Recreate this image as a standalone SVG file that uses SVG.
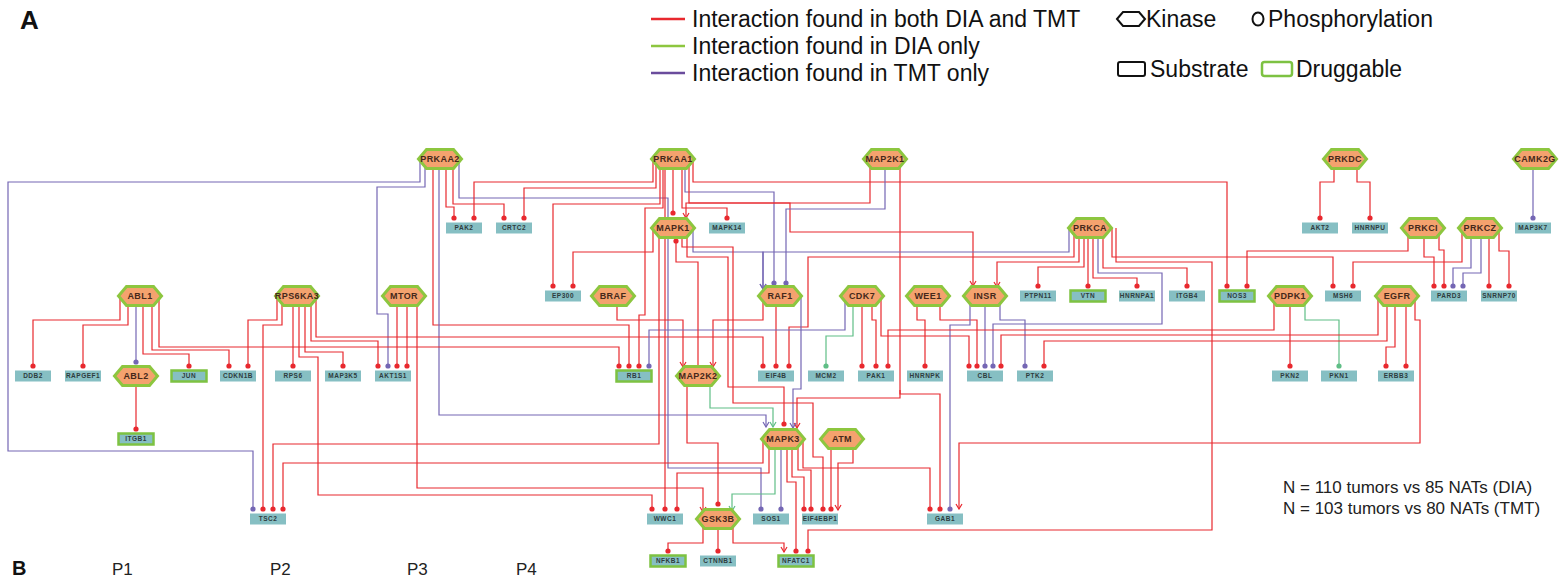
<svg xmlns="http://www.w3.org/2000/svg" xmlns:xlink="http://www.w3.org/1999/xlink" width="1565" height="576" viewBox="0 0 1565 576">
<style>
.bg{fill:#fff}
.e{fill:none;stroke-width:1.2}
.r{stroke:#E8282E}
.g{stroke:#5FBE86}
.p{stroke:#7466B4}
.r.d{marker-end:url(#dr)}
.g.d{marker-end:url(#dg)}
.p.d{marker-end:url(#dp)}
.r.t{marker-end:url(#tr)}
.g.t{marker-end:url(#tg)}
.p.t{marker-end:url(#tp)}
.k{fill:#F4A26E;stroke:#8DC63F;stroke-width:3;stroke-linejoin:miter}
.s{fill:#86BFC3}
.dr{fill:#86BFC3;stroke:#7DC242;stroke-width:2.5}
.kt{font-family:"Liberation Sans",Arial,sans-serif;font-size:9px;font-weight:bold;fill:#46281A;text-anchor:middle;letter-spacing:0.4px}
.st{font-family:"Liberation Sans",Arial,sans-serif;font-size:6.5px;font-weight:bold;fill:#2E3C3E;text-anchor:middle;letter-spacing:0.5px}
.lg{font-family:"Liberation Sans",Arial,sans-serif;font-size:23px;fill:#111}
.nt{font-family:"Liberation Sans",Arial,sans-serif;font-size:17px;fill:#222}
.big{font-family:"Liberation Sans",Arial,sans-serif;font-size:26px;font-weight:bold;fill:#111}
</style>
<defs>
<marker id="dr" viewBox="0 0 6 6" refX="3" refY="3" markerWidth="6" markerHeight="6" markerUnits="userSpaceOnUse"><circle cx="3" cy="3" r="2.6" fill="#E8282E"/></marker>
<marker id="dg" viewBox="0 0 6 6" refX="3" refY="3" markerWidth="6" markerHeight="6" markerUnits="userSpaceOnUse"><circle cx="3" cy="3" r="2.6" fill="#5FBE86"/></marker>
<marker id="dp" viewBox="0 0 6 6" refX="3" refY="3" markerWidth="6" markerHeight="6" markerUnits="userSpaceOnUse"><circle cx="3" cy="3" r="2.6" fill="#7466B4"/></marker>
<marker id="tr" viewBox="-6 -4 7 8" refX="0" refY="0" markerWidth="7" markerHeight="8" markerUnits="userSpaceOnUse" orient="auto"><path d="M-5,-3 L0,0 L-5,3" fill="none" stroke="#E8282E" stroke-width="1.2"/></marker>
<marker id="tg" viewBox="-6 -4 7 8" refX="0" refY="0" markerWidth="7" markerHeight="8" markerUnits="userSpaceOnUse" orient="auto"><path d="M-5,-3 L0,0 L-5,3" fill="none" stroke="#5FBE86" stroke-width="1.2"/></marker>
<marker id="tp" viewBox="-6 -4 7 8" refX="0" refY="0" markerWidth="7" markerHeight="8" markerUnits="userSpaceOnUse" orient="auto"><path d="M-5,-3 L0,0 L-5,3" fill="none" stroke="#7466B4" stroke-width="1.2"/></marker>
<polygon id="hex" class="k" points="-21.5,0 -13.5,-9.5 13.5,-9.5 21.5,0 13.5,9.5 -13.5,9.5"/>
<rect id="sub" class="s" x="-18" y="-5.5" width="36" height="11"/>
<rect id="drg" class="dr" x="-17.5" y="-5.5" width="35" height="11"/>
</defs>
<rect class="bg" width="1565" height="576"/>

<g id="legend">
<text class="big" x="20" y="29">A</text>
<line x1="651" y1="19" x2="685" y2="19" stroke="#E8282E" stroke-width="2.5"/>
<line x1="651" y1="46" x2="685" y2="46" stroke="#8DC63F" stroke-width="2.5"/>
<line x1="651" y1="73" x2="685" y2="73" stroke="#6A4C9C" stroke-width="2.5"/>
<text class="lg" x="692" y="27">Interaction found in both DIA and TMT</text>
<text class="lg" x="692" y="54">Interaction found in DIA only</text>
<text class="lg" x="692" y="81">Interaction found in TMT only</text>
<polygon points="1117,19 1123,12 1139,12 1145,19 1139,26 1123,26" fill="none" stroke="#111" stroke-width="2"/>
<text class="lg" x="1146" y="27">Kinase</text>
<ellipse cx="1258" cy="19" rx="5.5" ry="6.5" fill="none" stroke="#111" stroke-width="2"/>
<text class="lg" x="1268" y="27">Phosphorylation</text>
<rect x="1118" y="62" width="27" height="14" rx="2" fill="none" stroke="#111" stroke-width="2"/>
<text class="lg" x="1150" y="77">Substrate</text>
<rect x="1262" y="62" width="30" height="14" rx="2.5" fill="none" stroke="#7DC242" stroke-width="2.5"/>
<text class="lg" x="1296" y="77">Druggable</text>
<text class="nt" x="1283" y="493">N = 110 tumors vs 85 NATs (DIA)</text>
<text class="nt" x="1283" y="514">N = 103 tumors vs 80 NATs (TMT)</text>
<text class="big" x="12" y="575" style="font-size:20px">B</text>
<text class="nt" x="112" y="575">P1</text>
<text class="nt" x="270" y="575">P2</text>
<text class="nt" x="407" y="575">P3</text>
<text class="nt" x="516" y="575">P4</text>
</g>

<g id="connectors">
<!-- PRKAA2 -->
<path class="e p d" d="M420 159 V182 H8 V451 H253 V509"/>
<path class="e p d" d="M425 159 V187 H377 V314 H388 V366"/>
<path class="e r d" d="M433 159 V325 H629 V366"/>
<path class="e p t" d="M439 159 V415 H766 V427"/>
<path class="e r d" d="M446 159 V207 H454 V218"/>
<path class="e r d" d="M453 159 V204 H504 V218"/>
<path class="e p d" d="M459 159 V198 H668 V468 H761 V509"/>
<!-- PRKAA1 -->
<path class="e r d" d="M653 159 V182 H474 V218"/>
<path class="e r d" d="M656 159 V188 H524 V218"/>
<path class="e r d" d="M663 159 V208 H645 V315 H639 V366"/>
<path class="e r d" d="M660 159 V204 H553 V286"/>
<path class="e r d" d="M665 159 V509"/>
<path class="e r d" d="M673 159 V213"/>
<path class="e r d" d="M682 159 V208 H727 V218"/>
<path class="e p d" d="M685 159 V192 H774 V283"/>
<path class="e r t" d="M689 159 V203 H790 V232 H973 V286"/>
<path class="e r d" d="M693 159 V182 H1227 V286"/>
<!-- MAP2K1 -->
<path class="e r t" d="M870 159 V203 H686 V218"/>
<path class="e p d" d="M885 159 V209 H786 V283"/>
<path class="e r d" d="M900 159 V394 H940 V509"/>
<path class="e r t" d="M900 390 V398 H797 V428"/>
<!-- PRKDC / CAMK2G -->
<path class="e r d" d="M1334 159 V182 H1320 V218"/>
<path class="e r d" d="M1357 159 V182 H1370 V218"/>
<path class="e p d" d="M1533 159 V218"/>
<!-- PRKCA -->
<path class="e p t" d="M1069 228 V252 H763 V289"/>
<path class="e p t" d="M693 228 V252 H763 V289"/>
<path class="e r d" d="M1074 228 V257 H808 V327 H789 V366"/>
<path class="e r t" d="M1079 228 V262 H997 V287"/>
<path class="e r d" d="M1084 228 V267 H1038 V286"/>
<path class="e r d" d="M1088 228 V286"/>
<path class="e r d" d="M1093 228 V278 H1137 V286"/>
<path class="e p d" d="M1098 228 V273 H1162 V324 H993 V366"/>
<path class="e r d" d="M1103 228 V268 H1187 V286"/>
<path class="e r d" d="M1112 228 V257 H1333 V286"/>
<path class="e r d" d="M1116 228 V262 H1212 V530 H808 V551"/>
<!-- PRKCI / PRKCZ -->
<path class="e r d" d="M1408 228 V251 H1247 V286"/>
<path class="e r d" d="M1424 228 V257 H1434 V286"/>
<path class="e r d" d="M1439 228 V250 H1444 V286"/>
<path class="e r d" d="M1462 228 V262 H1353 V286"/>
<path class="e p d" d="M1471 228 V268 H1453 V286"/>
<path class="e p d" d="M1481 228 V273 H1463 V286"/>
<path class="e r d" d="M1489 228 V286"/>
<path class="e r d" d="M1499 228 V251 H1509 V286"/>
<!-- ABL1 / ABL2 -->
<path class="e r d" d="M120 296 V320 H33 V366"/>
<path class="e r d" d="M128 296 V325 H83 V366"/>
<path class="e p d" d="M136 296 V362"/>
<path class="e r d" d="M143 296 V354 H189 V366"/>
<path class="e r d" d="M152 296 V350 H229 V366"/>
<path class="e r d" d="M159 296 V347 H619 V366"/>
<path class="e r d" d="M136 376 V429"/>
<!-- RPS6KA3 -->
<path class="e r d" d="M277 296 V320 H248 V366"/>
<path class="e r d" d="M282 296 V325 H263 V509"/>
<path class="e r d" d="M293 296 V366"/>
<path class="e r d" d="M299 296 V357 H318 V495 H652 V509"/>
<path class="e r d" d="M305 296 V352 H343 V366"/>
<path class="e r d" d="M311 296 V341 H378 V366"/>
<path class="e r d" d="M316 296 V337 H763 V366"/>
<!-- MTOR -->
<path class="e r d" d="M397 296 V366"/>
<path class="e r d" d="M407 296 V366"/>
<path class="e r t" d="M417 296 V488 H703 V512"/>
<!-- BRAF / RAF1 -->
<path class="e r t" d="M617 296 V320 H683 V367"/>
<path class="e r t" d="M763 296 V320 H713 V367"/>
<path class="e r d" d="M776 296 V366"/>
<path class="e p t" d="M801 296 V389 H793 V428"/>
<!-- CDK7 -->
<path class="e p d" d="M845 296 V330 H649 V366"/>
<path class="e g d" d="M853 296 V336 H826 V366"/>
<path class="e r d" d="M862 296 V366"/>
<path class="e r d" d="M872 296 V320 H876 V366"/>
<path class="e r d" d="M881 296 V336 H969 V366"/>
<!-- WEE1 / INSR -->
<path class="e r d" d="M917 296 V320 H925 V366"/>
<path class="e r d" d="M940 296 V320 H977 V366"/>
<path class="e p d" d="M970 296 V325 H950 V509"/>
<path class="e p d" d="M985 296 V366"/>
<path class="e p d" d="M1000 296 V320 H1025 V366"/>
<!-- PDPK1 / EGFR -->
<path class="e r d" d="M1274 296 V330 H888 V366"/>
<path class="e r d" d="M1290 296 V366"/>
<path class="e g d" d="M1305 296 V320 H1339 V366"/>
<path class="e r d" d="M1378 296 V335 H1001 V366"/>
<path class="e r d" d="M1387 296 V341 H1044 V366"/>
<path class="e r d" d="M1395 296 V347 H1386 V366"/>
<path class="e r d" d="M1406 296 V366"/>
<path class="e r t" d="M1415 296 V320 H1420 V443 H959 V509"/>
<!-- MAPK1 -->
<path class="e r d" d="M687 228 V257 H728 V387 H784 V424"/>
<path class="e r d" d="M659 228 V444 H273 V509"/>
<path class="e r d" d="M653 228 V252 H573 V286"/>
<path class="e r d" d="M682 228 V247 H733 V403 H813 V457 H823 V509"/>
<!-- MAP2K2 -->
<path class="e r d" d="M698 376 V262 H676 V241"/>
<path class="e r d" d="M687 376 V443 H718 V504"/>
<path class="e g t" d="M710 376 V408 H773 V427"/>
<!-- MAPK3 -->
<path class="e r d" d="M763 439 V463 H283 V509"/>
<path class="e r d" d="M769 439 V473 H677 V509"/>
<path class="e g t" d="M775 439 V494 H732 V511"/>
<path class="e p d" d="M781 439 V509"/>
<path class="e r d" d="M787 439 V482 H796 V551"/>
<path class="e r d" d="M792 439 V477 H804 V509"/>
<path class="e r d" d="M798 439 V470 H811 V509"/>
<path class="e r d" d="M803 439 V468 H930 V509"/>
<!-- ATM -->
<path class="e r d" d="M831 439 V509"/>
<path class="e r t" d="M853 439 V463 H838 V510"/>
<!-- GSK3B -->
<path class="e r d" d="M703 519 V543 H668 V551"/>
<path class="e r d" d="M718 519 V551"/>
<path class="e r t" d="M733 519 V543 H784 V552"/>
</g>

<g id="kinases">
<g id="n-PRKAA2" transform="translate(440,159)"><use href="#hex"/><text class="kt" y="3.3">PRKAA2</text></g>
<g id="n-PRKAA1" transform="translate(673,159)"><use href="#hex"/><text class="kt" y="3.3">PRKAA1</text></g>
<g id="n-MAP2K1" transform="translate(885,159)"><use href="#hex"/><text class="kt" y="3.3">MAP2K1</text></g>
<g id="n-PRKDC" transform="translate(1345,159)"><use href="#hex"/><text class="kt" y="3.3">PRKDC</text></g>
<g id="n-CAMK2G" transform="translate(1535,159)"><use href="#hex"/><text class="kt" y="3.3">CAMK2G</text></g>
<g id="n-MAPK1" transform="translate(673,228)"><use href="#hex"/><text class="kt" y="3.3">MAPK1</text></g>
<g id="n-PRKCA" transform="translate(1090,228)"><use href="#hex"/><text class="kt" y="3.3">PRKCA</text></g>
<g id="n-PRKCI" transform="translate(1423,228)"><use href="#hex"/><text class="kt" y="3.3">PRKCI</text></g>
<g id="n-PRKCZ" transform="translate(1480,228)"><use href="#hex"/><text class="kt" y="3.3">PRKCZ</text></g>
<g id="n-ABL1" transform="translate(140,296)"><use href="#hex"/><text class="kt" y="3.3">ABL1</text></g>
<g id="n-RPS6KA3" transform="translate(297,296)"><use href="#hex"/><text class="kt" y="3.3">RPS6KA3</text></g>
<g id="n-MTOR" transform="translate(404,296)"><use href="#hex"/><text class="kt" y="3.3">MTOR</text></g>
<g id="n-BRAF" transform="translate(613,296)"><use href="#hex"/><text class="kt" y="3.3">BRAF</text></g>
<g id="n-RAF1" transform="translate(780,296)"><use href="#hex"/><text class="kt" y="3.3">RAF1</text></g>
<g id="n-CDK7" transform="translate(862,296)"><use href="#hex"/><text class="kt" y="3.3">CDK7</text></g>
<g id="n-WEE1" transform="translate(928,296)"><use href="#hex"/><text class="kt" y="3.3">WEE1</text></g>
<g id="n-INSR" transform="translate(985,296)"><use href="#hex"/><text class="kt" y="3.3">INSR</text></g>
<g id="n-PDPK1" transform="translate(1290,296)"><use href="#hex"/><text class="kt" y="3.3">PDPK1</text></g>
<g id="n-EGFR" transform="translate(1397,296)"><use href="#hex"/><text class="kt" y="3.3">EGFR</text></g>
<g id="n-ABL2" transform="translate(136,376)"><use href="#hex"/><text class="kt" y="3.3">ABL2</text></g>
<g id="n-MAP2K2" transform="translate(698,376)"><use href="#hex"/><text class="kt" y="3.3">MAP2K2</text></g>
<g id="n-MAPK3" transform="translate(783,439)"><use href="#hex"/><text class="kt" y="3.3">MAPK3</text></g>
<g id="n-ATM" transform="translate(842,439)"><use href="#hex"/><text class="kt" y="3.3">ATM</text></g>
<g id="n-GSK3B" transform="translate(718,519)"><use href="#hex"/><text class="kt" y="3.3">GSK3B</text></g>
</g>

<g id="substrates">
<g id="n-PAK2" transform="translate(464,228)"><use href="#sub"/><text class="st" y="2.3">PAK2</text></g>
<g id="n-CRTC2" transform="translate(514,228)"><use href="#sub"/><text class="st" y="2.3">CRTC2</text></g>
<g id="n-MAPK14" transform="translate(727,228)"><use href="#sub"/><text class="st" y="2.3">MAPK14</text></g>
<g id="n-AKT2" transform="translate(1320,228)"><use href="#sub"/><text class="st" y="2.3">AKT2</text></g>
<g id="n-HNRNPU" transform="translate(1370,228)"><use href="#sub"/><text class="st" y="2.3">HNRNPU</text></g>
<g id="n-MAP3K7" transform="translate(1533,228)"><use href="#sub"/><text class="st" y="2.3">MAP3K7</text></g>
<g id="n-EP300" transform="translate(563,296)"><use href="#sub"/><text class="st" y="2.3">EP300</text></g>
<g id="n-PTPN11" transform="translate(1038,296)"><use href="#sub"/><text class="st" y="2.3">PTPN11</text></g>
<g id="n-VTN" transform="translate(1088,296)"><use href="#drg"/><text class="st" y="2.3">VTN</text></g>
<g id="n-HNRNPA1" transform="translate(1137,296)"><use href="#sub"/><text class="st" y="2.3">HNRNPA1</text></g>
<g id="n-ITGB4" transform="translate(1187,296)"><use href="#sub"/><text class="st" y="2.3">ITGB4</text></g>
<g id="n-NOS3" transform="translate(1237,296)"><use href="#drg"/><text class="st" y="2.3">NOS3</text></g>
<g id="n-MSH6" transform="translate(1343,296)"><use href="#sub"/><text class="st" y="2.3">MSH6</text></g>
<g id="n-PARD3" transform="translate(1449,296)"><use href="#sub"/><text class="st" y="2.3">PARD3</text></g>
<g id="n-SNRNP70" transform="translate(1499,296)"><use href="#sub"/><text class="st" y="2.3">SNRNP70</text></g>
<g id="n-DDB2" transform="translate(33,376)"><use href="#sub"/><text class="st" y="2.3">DDB2</text></g>
<g id="n-RAPGEF1" transform="translate(83,376)"><use href="#sub"/><text class="st" y="2.3">RAPGEF1</text></g>
<g id="n-JUN" transform="translate(189,376)"><use href="#drg"/><text class="st" y="2.3">JUN</text></g>
<g id="n-CDKN1B" transform="translate(238,376)"><use href="#sub"/><text class="st" y="2.3">CDKN1B</text></g>
<g id="n-RPS6" transform="translate(293,376)"><use href="#sub"/><text class="st" y="2.3">RPS6</text></g>
<g id="n-MAP3K5" transform="translate(343,376)"><use href="#sub"/><text class="st" y="2.3">MAP3K5</text></g>
<g id="n-AKT1S1" transform="translate(393,376)"><use href="#sub"/><text class="st" y="2.3">AKT1S1</text></g>
<g id="n-RB1" transform="translate(634,376)"><use href="#drg"/><text class="st" y="2.3">RB1</text></g>
<g id="n-EIF4B" transform="translate(776,376)"><use href="#sub"/><text class="st" y="2.3">EIF4B</text></g>
<g id="n-MCM2" transform="translate(826,376)"><use href="#sub"/><text class="st" y="2.3">MCM2</text></g>
<g id="n-PAK1" transform="translate(876,376)"><use href="#sub"/><text class="st" y="2.3">PAK1</text></g>
<g id="n-HNRNPK" transform="translate(925,376)"><use href="#sub"/><text class="st" y="2.3">HNRNPK</text></g>
<g id="n-CBL" transform="translate(985,376)"><use href="#sub"/><text class="st" y="2.3">CBL</text></g>
<g id="n-PTK2" transform="translate(1035,376)"><use href="#sub"/><text class="st" y="2.3">PTK2</text></g>
<g id="n-PKN2" transform="translate(1290,376)"><use href="#sub"/><text class="st" y="2.3">PKN2</text></g>
<g id="n-PKN1" transform="translate(1339,376)"><use href="#sub"/><text class="st" y="2.3">PKN1</text></g>
<g id="n-ERBB3" transform="translate(1396,376)"><use href="#sub"/><text class="st" y="2.3">ERBB3</text></g>
<g id="n-ITGB1" transform="translate(136,439)"><use href="#drg"/><text class="st" y="2.3">ITGB1</text></g>
<g id="n-TSC2" transform="translate(268,519)"><use href="#sub"/><text class="st" y="2.3">TSC2</text></g>
<g id="n-WWC1" transform="translate(665,519)"><use href="#sub"/><text class="st" y="2.3">WWC1</text></g>
<g id="n-SOS1" transform="translate(771,519)"><use href="#sub"/><text class="st" y="2.3">SOS1</text></g>
<g id="n-EIF4EBP1" transform="translate(820,519)"><use href="#sub"/><text class="st" y="2.3">EIF4EBP1</text></g>
<g id="n-GAB1" transform="translate(945,519)"><use href="#sub"/><text class="st" y="2.3">GAB1</text></g>
<g id="n-NFKB1" transform="translate(668,561)"><use href="#drg"/><text class="st" y="2.3">NFKB1</text></g>
<g id="n-CTNNB1" transform="translate(718,561)"><use href="#sub"/><text class="st" y="2.3">CTNNB1</text></g>
<g id="n-NFATC1" transform="translate(796,561)"><use href="#drg"/><text class="st" y="2.3">NFATC1</text></g>
</g>
</svg>
